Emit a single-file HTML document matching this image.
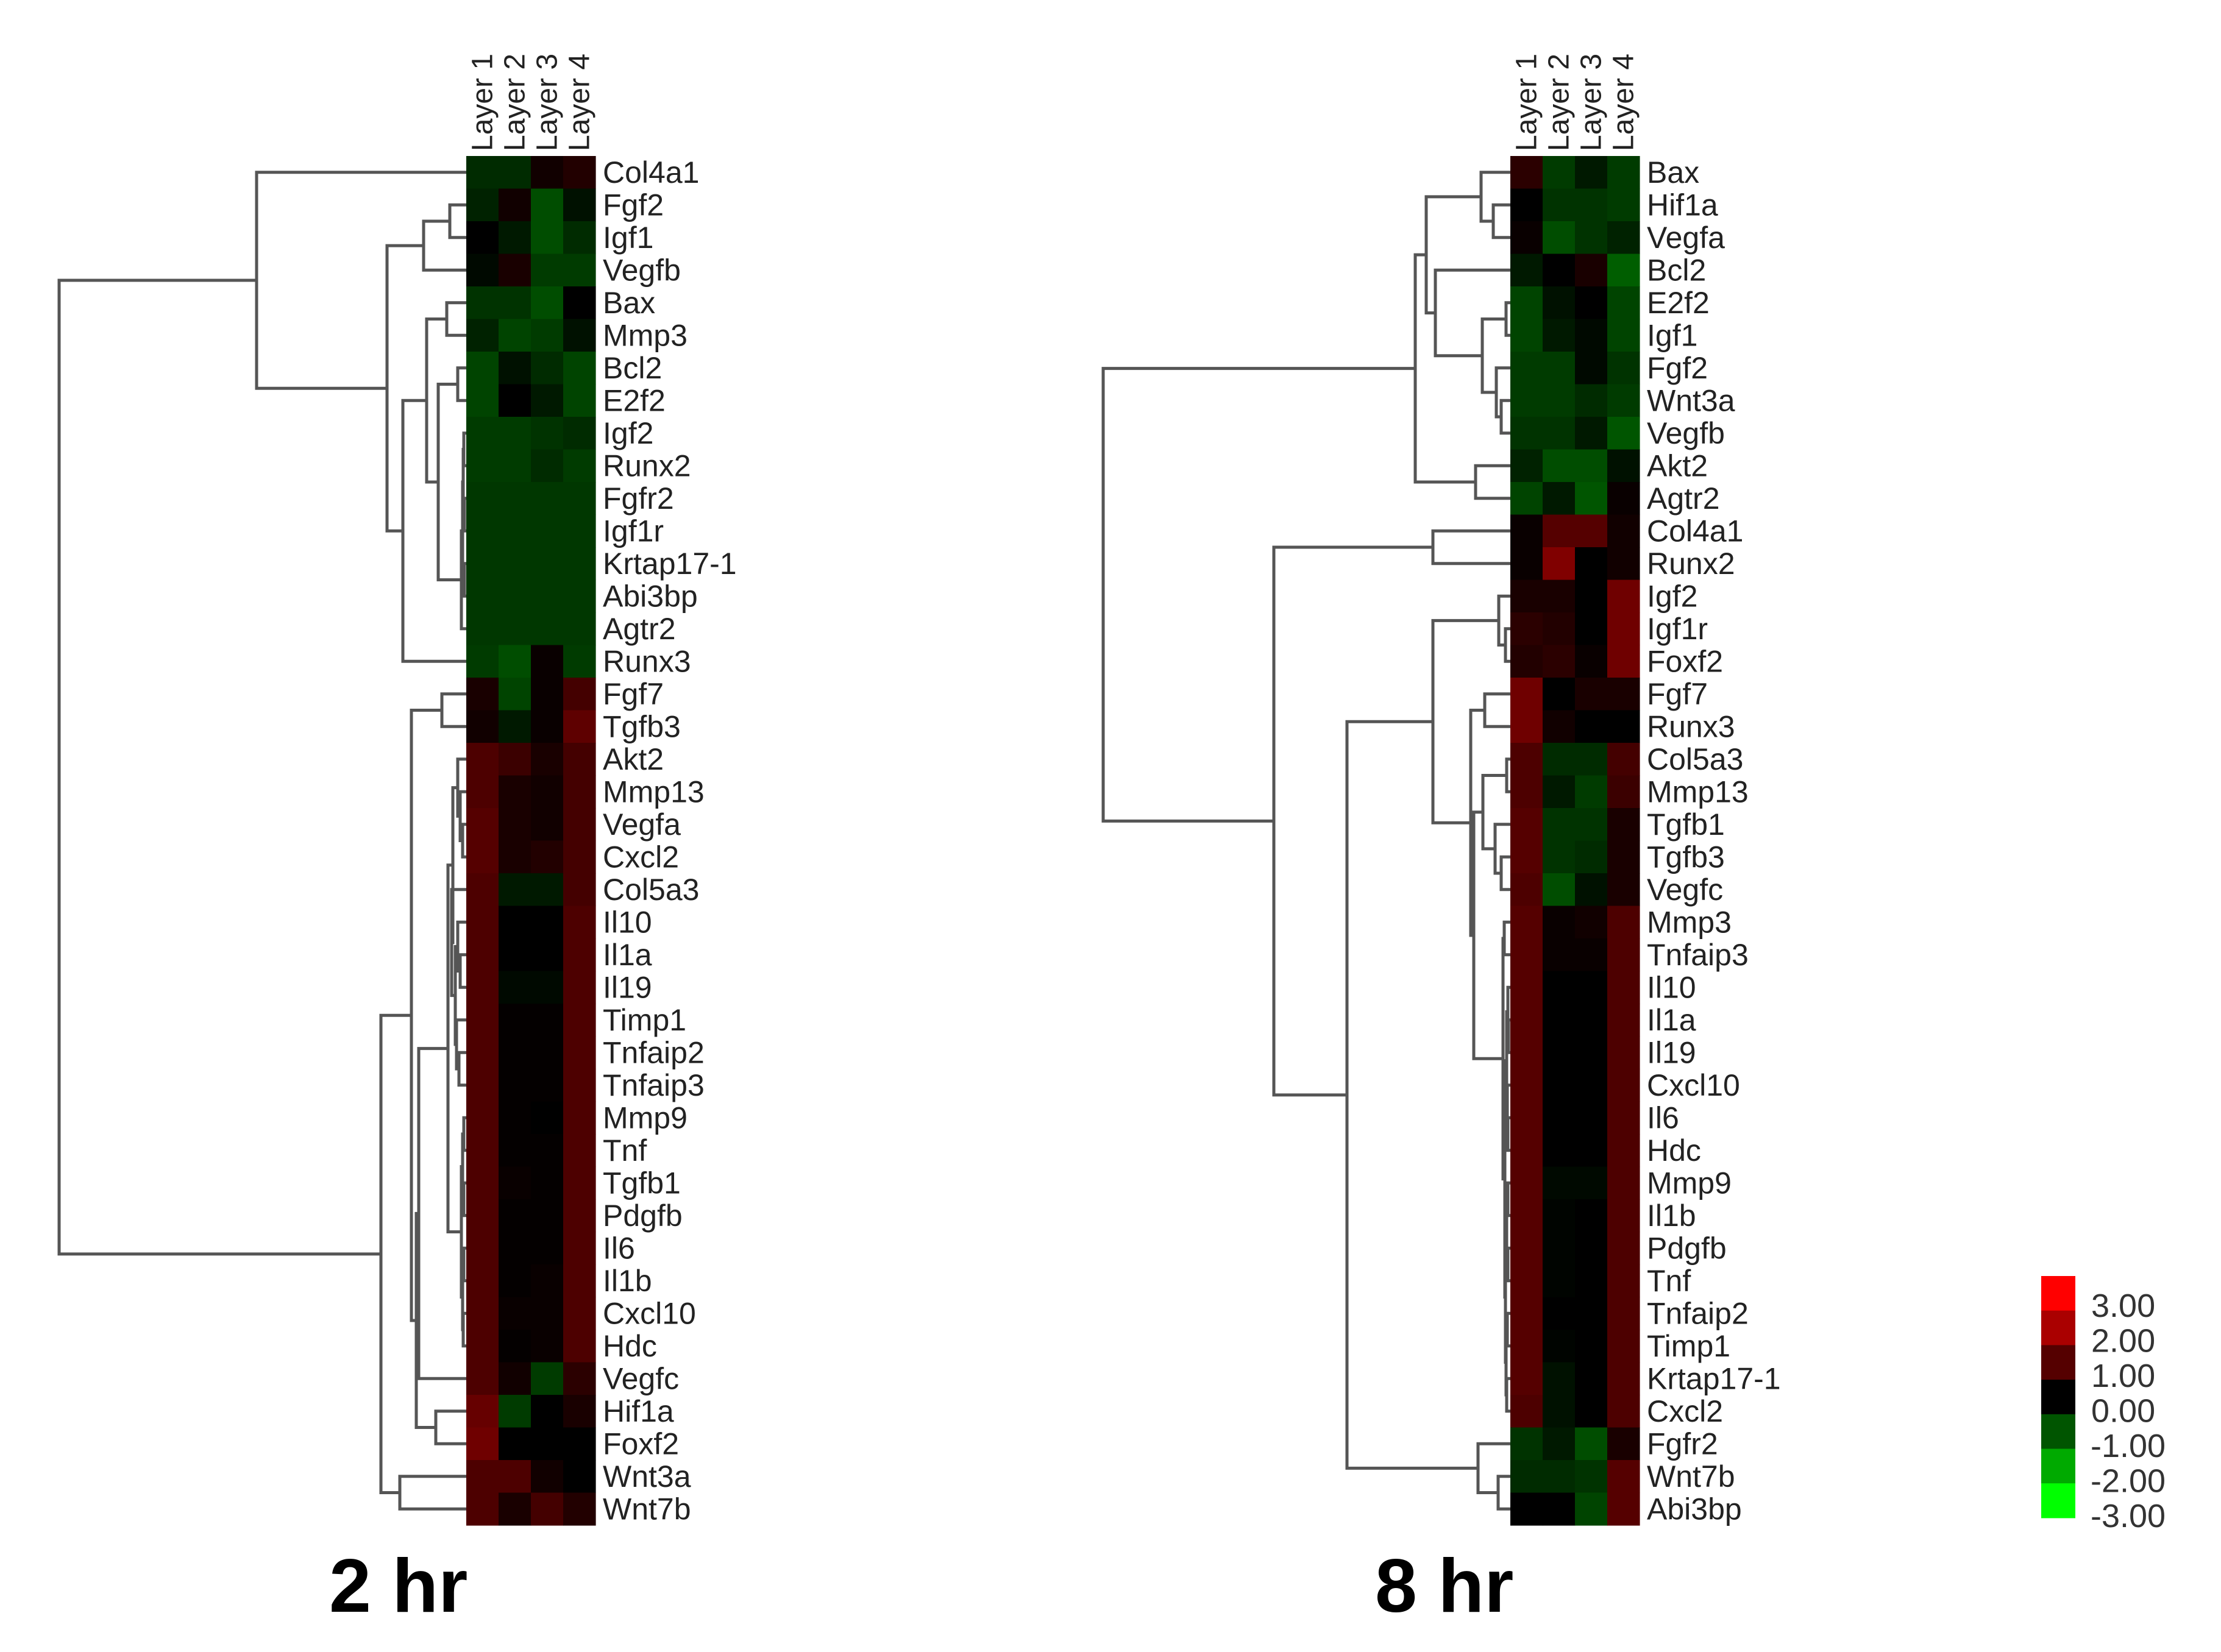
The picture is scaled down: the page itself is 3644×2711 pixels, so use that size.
<!DOCTYPE html>
<html><head><meta charset="utf-8">
<style>
html,body{margin:0;padding:0;background:#fff;}
svg{display:block;}
text{font-family:"Liberation Sans",Arial,sans-serif;}
</style></head>
<body>
<svg id="chart" width="3644" height="2711" viewBox="0 0 3644 2711" xmlns="http://www.w3.org/2000/svg">
<rect x="0" y="0" width="3644" height="2711" fill="#fff"/>
</svg>
<script>
// ---------- data ----------
const columns = ["Layer 1","Layer 2","Layer 3","Layer 4"];
const genes2h = ["Col4a1","Fgf2","Igf1","Vegfb","Bax","Mmp3","Bcl2","E2f2","Igf2","Runx2","Fgfr2","Igf1r","Krtap17-1","Abi3bp","Agtr2","Runx3","Fgf7","Tgfb3","Akt2","Mmp13","Vegfa","Cxcl2","Col5a3","Il10","Il1a","Il19","Timp1","Tnfaip2","Tnfaip3","Mmp9","Tnf","Tgfb1","Pdgfb","Il6","Il1b","Cxcl10","Hdc","Vegfc","Hif1a","Foxf2","Wnt3a","Wnt7b"];
const values2h = [
[-0.5,-0.5,0.2,0.4],[-0.4,0.2,-0.9,-0.2],[0,-0.3,-0.9,-0.5],[-0.1,0.3,-0.7,-0.7],
[-0.6,-0.6,-0.9,0],[-0.4,-0.8,-0.7,-0.2],[-0.8,-0.2,-0.5,-0.8],[-0.8,0,-0.3,-0.8],
[-0.7,-0.7,-0.6,-0.5],[-0.7,-0.7,-0.5,-0.7],[-0.65,-0.65,-0.65,-0.65],[-0.65,-0.65,-0.65,-0.65],
[-0.65,-0.65,-0.65,-0.65],[-0.65,-0.65,-0.65,-0.65],[-0.65,-0.65,-0.65,-0.65],[-0.7,-0.9,0.1,-0.7],
[0.3,-0.8,0.1,0.8],[0.2,-0.3,0.1,1.1],[0.9,0.7,0.3,0.8],[0.9,0.3,0.2,0.8],
[1.0,0.3,0.2,0.8],[1.0,0.3,0.4,0.8],[0.9,-0.3,-0.3,0.8],[0.9,0,0,0.9],
[0.9,0,0,0.9],[0.9,-0.1,-0.1,0.9],[0.9,0.05,0.05,0.9],[0.9,0.05,0.05,0.9],
[0.9,0.05,0.05,0.9],[0.9,0.05,0,0.9],[0.9,0.05,0.05,0.9],[0.9,0.1,0.05,0.9],
[0.9,0.05,0.05,0.9],[0.9,0.05,0.05,0.9],[0.9,0.05,0.1,0.9],[0.9,0.1,0.1,0.9],
[0.9,0.05,0.1,0.9],[0.9,0.2,-0.7,0.5],[1.2,-0.7,0,0.3],[1.3,0,0,0],
[0.9,0.9,0.2,0],[0.9,0.3,0.8,0.4]];
const genes8h = ["Bax","Hif1a","Vegfa","Bcl2","E2f2","Igf1","Fgf2","Wnt3a","Vegfb","Akt2","Agtr2","Col4a1","Runx2","Igf2","Igf1r","Foxf2","Fgf7","Runx3","Col5a3","Mmp13","Tgfb1","Tgfb3","Vegfc","Mmp3","Tnfaip3","Il10","Il1a","Il19","Cxcl10","Il6","Hdc","Mmp9","Il1b","Pdgfb","Tnf","Tnfaip2","Timp1","Krtap17-1","Cxcl2","Fgfr2","Wnt7b","Abi3bp"];
const values8h = [
[0.5,-0.7,-0.3,-0.7],[0,-0.6,-0.6,-0.7],[0.1,-0.9,-0.6,-0.4],[-0.3,0,0.3,-1.1],
[-0.8,-0.2,0,-0.8],[-0.8,-0.3,-0.1,-0.8],[-0.7,-0.7,-0.1,-0.6],[-0.7,-0.7,-0.5,-0.7],
[-0.6,-0.6,-0.3,-1.0],[-0.4,-0.9,-0.9,-0.2],[-0.8,-0.3,-1.0,0.1],[0.1,1.0,1.0,0.2],
[0.1,1.5,0,0.2],[0.3,0.3,0,1.3],[0.5,0.4,0,1.3],[0.4,0.5,0.1,1.3],
[1.3,0,0.3,0.3],[1.3,0.2,0,0],[0.9,-0.5,-0.5,0.8],[0.9,-0.3,-0.7,0.7],
[1.0,-0.6,-0.6,0.3],[1.0,-0.6,-0.5,0.3],[0.9,-0.9,-0.2,0.3],[1.0,0.1,0.2,0.9],
[1.0,0.1,0.1,0.9],[1.0,0,0,0.9],[1.0,0,0,0.9],[1.0,0,0,0.9],
[1.0,0,0,0.9],[1.0,0,0,0.9],[1.0,0,0,0.9],[1.0,-0.1,-0.1,0.9],
[1.0,-0.05,0,0.9],[1.0,-0.05,0,0.9],[1.0,-0.05,0,0.9],[1.0,0,0,0.9],
[1.0,-0.05,0,0.9],[1.0,-0.2,0,0.9],[0.9,-0.2,0,0.9],[-0.6,-0.3,-0.9,0.3],
[-0.5,-0.5,-0.6,1.0],[0,0,-0.8,1.0]];
// dendrograms: [distance, childA, childB]; leaves are gene names
const tree2h = [668,[344,"Col4a1",[130,[70,[27,"Fgf2","Igf1"],"Vegfb"],[104,[65,[32,"Bax","Mmp3"],[46,[14,"Bcl2","E2f2"],[8,[6,[5,[4,"Igf2","Runx2"],[3,"Fgfr2","Igf1r"]],[3,"Krtap17-1","Abi3bp"]],"Agtr2"]]],"Runx3"]]],
 [140,[90,[40,"Fgf7","Tgfb3"],[82,[78,[30,[22,[14,"Akt2",[10,"Mmp13",[6,"Vegfa","Cxcl2"]]],[24,"Col5a3",[18,[14,"Il10",[10,"Il1a","Il19"]],[16,"Timp1",[12,"Tnfaip2","Tnfaip3"]]]]],[8,[6,[4,"Mmp9","Tnf"],[4,"Tgfb1","Pdgfb"]],[6,[4,"Il6","Il1b"],[5,"Cxcl10","Hdc"]]]],"Vegfc"],[50,"Hif1a","Foxf2"]]],[109,"Wnt3a","Wnt7b"]]];
const tree8h = [668,[156,[138,[48,"Bax",[28,"Hif1a","Vegfa"]],[123,"Bcl2",[46,[7,"E2f2","Igf1"],[23,"Fgf2",[15,"Wnt3a","Vegfb"]]]]],[57,"Akt2","Agtr2"]],
 [388,[127,"Col4a1","Runx2"],[268,[127,[19,"Igf2",[8,"Igf1r","Foxf2"]],[65,[42,"Fgf7","Runx3"],[60,[45,[6,"Col5a3","Mmp13"],[25,"Tgfb1",[15,"Tgfb3","Vegfc"]]],[12,[10,"Mmp3","Tnfaip3"],[9,[6,[4,"Il10",[3,"Il1a","Il19"]],[5,"Cxcl10",[4,"Il6","Hdc"]]],[8,[6,[4,"Mmp9","Il1b"],[4,"Pdgfb","Tnf"]],[7,[5,"Tnfaip2","Timp1"],[6,"Krtap17-1","Cxcl2"]]]]]]]],[53,"Fgfr2",[20,"Wnt7b","Abi3bp"]]]]];
const legendValues = [3,2,1,0,-1,-2,-3];
const legendLabels = ["3.00","2.00","1.00","0.00","-1.00","-2.00","-3.00"];

// ---------- drawing ----------
const NS="http://www.w3.org/2000/svg";
const svg=document.getElementById('chart');
function mk(tag,attrs,parent){const e=document.createElementNS(NS,tag);for(const k in attrs)e.setAttribute(k,attrs[k]);(parent||svg).appendChild(e);return e;}
function color(v){
  const t=Math.max(-1,Math.min(1,v/3));
  if(t>=0) return `rgb(${Math.round(t*255)},0,0)`;
  return `rgb(0,${Math.round(-t*255)},0)`;
}
const TOP=256, ROWH=53.5, COLW=53;
function drawPanel(opt){
  const g=mk('g',{});
  
  
  const xCol=i=>opt.left+i*COLW;
  const yRow=i=>TOP+i*ROWH;
  // cells
  opt.values.forEach((row,r)=>row.forEach((v,c)=>{
    const rc=mk('rect',{x:xCol(c),y:yRow(r),width:COLW+0.6,height:ROWH+0.6,fill:color(v)},g);
    
    
  }));
  // row labels
  opt.genes.forEach((gname,r)=>{
    const t=mk('text',{x:opt.left+4*COLW+12,y:yRow(r)+ROWH/2+17,'font-size':50,fill:'#222'},g);
    t.textContent=gname;
    
    
  });
  // column labels
  columns.forEach((c,i)=>{
    const cx=xCol(i)+COLW/2+16;
    const t=mk('text',{x:cx,y:248,'font-size':48,fill:'#222',transform:`rotate(-90 ${cx} 248)`},g);
    t.textContent=c;
    
    
  });
  // dendrogram
  const dx=d=>opt.left-d;
  const stroke={stroke:'#555','stroke-width':5,fill:'none'};
  function walk(node){
    if(typeof node==='string'){return {x:opt.left,y:yRow(opt.genes.indexOf(node))+ROWH/2};}
    const a=walk(node[1]), b=walk(node[2]);
    const x=dx(node[0]);
    const p=mk('path',Object.assign({d:`M${a.x},${a.y}H${x}V${b.y}H${b.x}`},stroke),g);
    
    
    return {x:x,y:(a.y+b.y)/2};
  }
  walk(opt.tree);
  // title
  const t=mk('text',{x:opt.titleX,y:2645,'font-size':124,'font-weight':'bold',fill:'#000'},g);
  t.textContent=opt.title;
  
  
}
drawPanel({name:'panel-2hr',left:765,genes:genes2h,values:values2h,tree:tree2h,title:'2 hr',titleX:540});
drawPanel({name:'panel-8hr',left:2478,genes:genes8h,values:values8h,tree:tree8h,title:'8 hr',titleX:2256});

// legend
const lg=mk('g',{});


const LTOP=2094, LH=56.7;
legendValues.forEach((v,i)=>{
  const r=mk('rect',{x:3349,y:LTOP+i*LH,width:56,height:LH+0.5,fill:color(v)},lg);
  
  
});
legendLabels.forEach((s,i)=>{
  const neg=s[0]==='-';
  const t=mk('text',{x:neg?3430:3431,y:2161+i*57.5,'font-size':54,fill:'#333'},lg);
  t.textContent=s;
  
  
});
</script>
</body></html>
